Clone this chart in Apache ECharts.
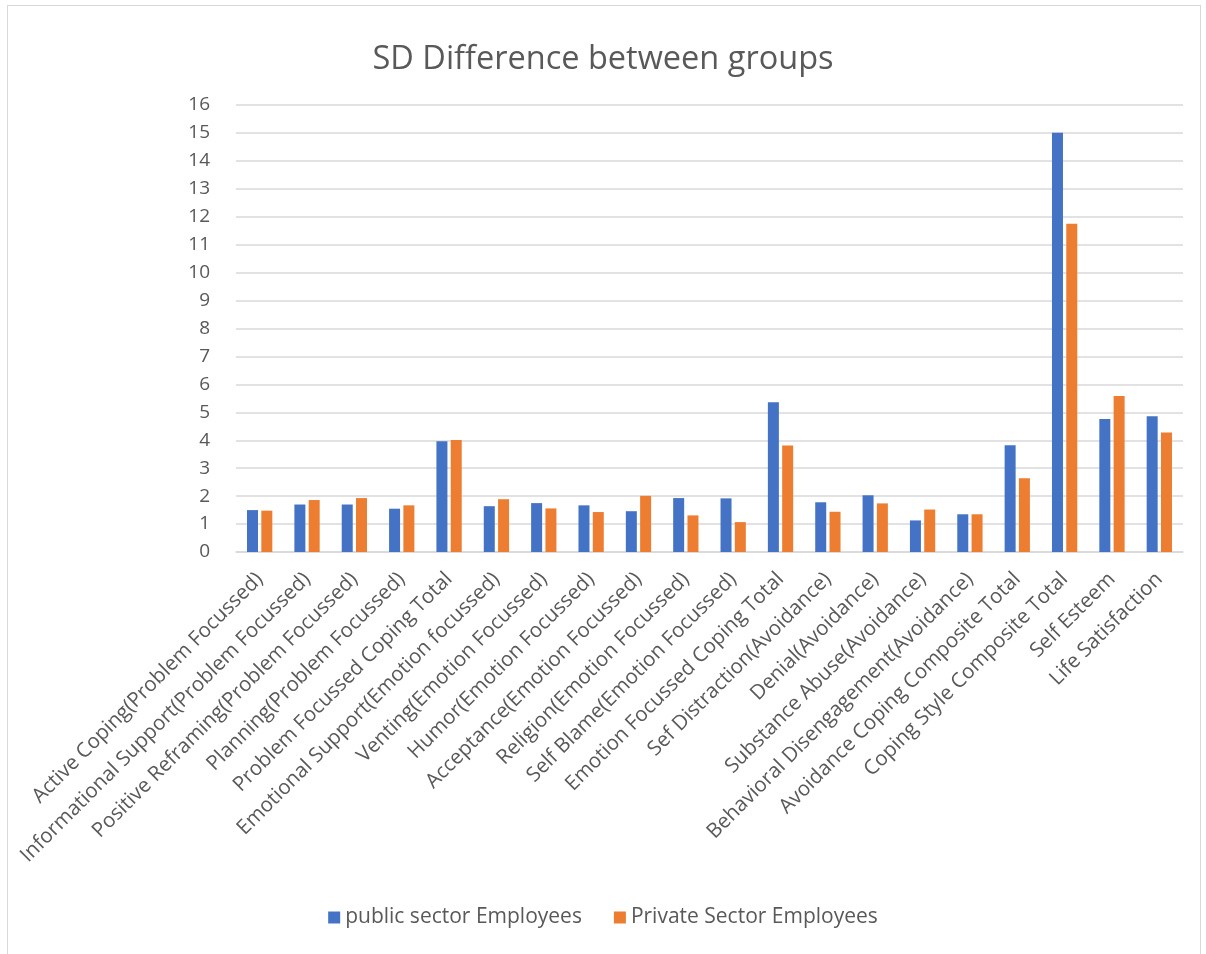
<!DOCTYPE html>
<html>
<head>
<meta charset="utf-8">
<script src="https://cdn.jsdelivr.net/npm/echarts@6/dist/echarts.min.js"></script>
<style>
  html, body { margin: 0; padding: 0; background: #fff; }
  #chart { width: 1206px; height: 954px; }
  #frame { position: absolute; left: 7px; top: 5px; width: 1192px; height: 960px; border: 1px solid #d9d9d9; pointer-events: none; }
</style>
</head>
<body>
<div id="chart"></div>
<div id="frame"></div>
<script>
var categories = [
    'Active Coping(Problem Focussed)',
    'Informational Support(Problem Focussed)',
    'Positive Reframing(Problem Focussed)',
    'Planning(Problem Focussed)',
    'Problem Focussed Coping Total',
    'Emotional Support(Emotion focussed)',
    'Venting(Emotion Focussed)',
    'Humor(Emotion Focussed)',
    'Acceptance(Emotion Focussed)',
    'Religion(Emotion Focussed)',
    'Self Blame(Emotion Focussed)',
    'Emotion Focussed Coping Total',
    'Sef Distraction(Avoidance)',
    'Denial(Avoidance)',
    'Substance Abuse(Avoidance)',
    'Behavioral Disengagement(Avoidance)',
    'Avoidance Coping Composite Total',
    'Coping Style Composite Total',
    'Self Esteem',
    'Life Satisfaction'
];
var publicSD = [1.50, 1.70, 1.70, 1.55, 3.96, 1.64, 1.75, 1.67, 1.46, 1.93,
                1.92, 5.36, 1.78, 2.03, 1.13, 1.35, 3.82, 15.01, 4.76, 4.86];
var privateSD = [1.48, 1.86, 1.93, 1.67, 4.01, 1.89, 1.56, 1.43, 2.01, 1.31,
                 1.07, 3.81, 1.44, 1.74, 1.52, 1.35, 2.64, 11.75, 5.58, 4.28];

var myChart = echarts.init(document.getElementById('chart'));
var font = '"Open Sans", sans-serif';

option = {
    animation: false,
    textStyle: { fontFamily: font },
    title: {
        text: 'SD Difference between groups',
        left: 'center',
        top: 38,
        textStyle: { fontSize: 32.5, fontWeight: 'normal', color: '#595959', fontFamily: font }
    },
    legend: {
        bottom: 21,
        left: 'center',
        itemWidth: 12,
        itemHeight: 12,
        itemGap: 32,
        icon: 'rect',
        textStyle: { fontSize: 21, color: '#595959', fontFamily: font }
    },
    grid: { left: 236, right: 23, top: 105, bottom: 402 },
    xAxis: {
        type: 'category',
        data: categories,
        axisLine: { lineStyle: { color: '#d9d9d9', width: 1.5 } },
        axisTick: { show: false },
        axisLabel: {
            rotate: 45,
            interval: 0,
            margin: 24,
            fontSize: 20.5,
            color: '#595959',
            fontFamily: font
        }
    },
    yAxis: {
        type: 'value',
        min: 0,
        max: 16,
        interval: 1,
        axisLine: { show: false },
        axisTick: { show: false },
        axisLabel: { fontSize: 19, color: '#595959', margin: 26, fontFamily: font },
        splitLine: { lineStyle: { color: '#d9d9d9', width: 1.5 } }
    },
    series: [
        {
            name: 'public sector Employees',
            type: 'bar',
            data: publicSD,
            barWidth: 11,
            barGap: '30%',
            itemStyle: { color: '#4472c4' }
        },
        {
            name: 'Private Sector Employees',
            type: 'bar',
            data: privateSD,
            barWidth: 11,
            itemStyle: { color: '#ed7d31' }
        }
    ]
};

myChart.setOption(option);
</script>
</body>
</html>
